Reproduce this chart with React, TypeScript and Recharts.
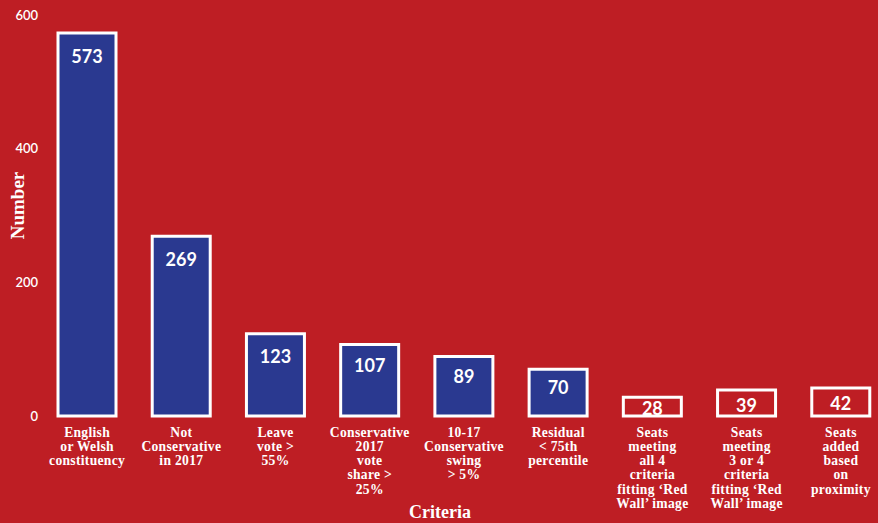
import React from 'react';
import { Bar, BarChart, Cell, LabelList, XAxis, YAxis } from 'recharts';

const categories = [
    'English\nor Welsh\nconstituency',
    'Not\nConservative\nin 2017',
    'Leave\nvote >\n55%',
    'Conservative\n2017\nvote\nshare >\n25%',
    '10-17\nConservative\nswing\n> 5%',
    'Residual\n< 75th\npercentile',
    'Seats\nmeeting\nall 4\ncriteria\nfitting ‘Red\nWall’ image',
    'Seats\nmeeting\n3 or 4\ncriteria\nfitting ‘Red\nWall’ image',
    'Seats\nadded\nbased\non\nproximity',
];
const counts = [573, 269, 123, 107, 89, 70, 28, 39, 42];
// the last three are outcome bars drawn hollow
const hollow = [false, false, false, false, false, false, true, true, true];
const yTicks = [0, 200, 400, 600];

const data = categories.map((name, i) => ({ name, value: counts[i], hollow: hollow[i] }));

const RED = '#BE1E24';
const BLUE = '#2A3990';
const SERIF = '"Liberation Serif", "Times New Roman", serif';
const SANS = 'Lato, "Open Sans", sans-serif';

function CategoryTick({ x, y, payload }: any) {
    const lines = String(payload.value).split('\n');
    return (
        <g>
            {lines.map((l, i) => (
                <text key={i} x={x} y={y + 8 + i * 14.3} textAnchor="middle" dominantBaseline="central" fill="#fff" fontFamily={SERIF} fontWeight={700} fontSize={13.6} letterSpacing={0.3}>
                    {l}
                </text>
            ))}
        </g>
    );
}

function ValueLabel({ x, y, width, height, value }: any) {
    const off = Math.min(23, 12 + height * 0.12);
    const cy = Math.min(y + off, y + height - 8);
    return (
        <text x={x + width / 2} y={cy} textAnchor="middle" dominantBaseline="central" fill="#fff" fontFamily={SANS} fontWeight={700} fontSize={18}>
            {value}
        </text>
    );
}

function YTitle({ viewBox }: any) {
    const cy = viewBox.y + viewBox.height / 2 - 10;
    return (
        <text x={17} y={cy} transform={`rotate(-90 17 ${cy})`} textAnchor="middle" dominantBaseline="central" fill="#fff" fontFamily={SERIF} fontWeight={700} fontSize={19}>
            Number
        </text>
    );
}

function XTitle() {
    return (
        <text x={440} y={512} textAnchor="middle" dominantBaseline="central" fill="#fff" fontFamily={SERIF} fontWeight={700} fontSize={18}>
            Criteria
        </text>
    );
}

export default function App() {
    return (
        <div style={{ position: 'absolute', left: 0, top: 0, width: 878, height: 523, overflow: 'hidden', background: RED }}>
            <BarChart width={888} height={523} data={data} margin={{ top: 15, right: 0, bottom: 0, left: 8 }} barSize={58}>
                <XAxis
                    dataKey="name"
                    interval={0}
                    height={107}
                    axisLine={false}
                    tickLine={false}
                    tick={<CategoryTick />}
                    label={<XTitle />}
                />
                <YAxis
                    width={32}
                    domain={[0, 600]}
                    ticks={yTicks}
                    axisLine={false}
                    tickLine={false}
                    tickSize={0}
                    tickMargin={2}
                    tick={{ fill: '#fff', fontSize: 13, fontWeight: 600, fontFamily: SANS }}
                    label={<YTitle />}
                />
                <Bar dataKey="value" stroke="#fff" strokeWidth={3} isAnimationActive={false}>
                    {data.map((d, i) => (
                        <Cell key={i} fill={d.hollow ? RED : BLUE} />
                    ))}
                    <LabelList dataKey="value" content={<ValueLabel />} />
                </Bar>
            </BarChart>
        </div>
    );
}
